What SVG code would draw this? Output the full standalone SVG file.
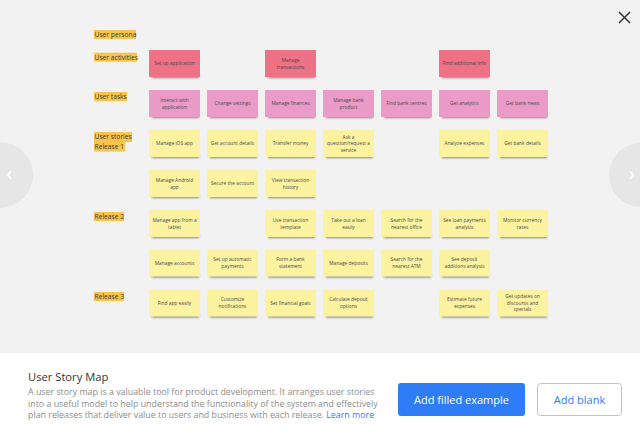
<svg xmlns="http://www.w3.org/2000/svg" xmlns:xlink="http://www.w3.org/1999/xlink" width="640" height="437" viewBox="0 0 640 437">
<defs>
<filter id="blur" x="-20%" y="-100%" width="140%" height="300%"><feGaussianBlur stdDeviation="1.3"/></filter>
<g id="note"><rect x="3" y="24" width="47" height="4" fill="#000" opacity="0.45" filter="url(#blur)"/><rect width="51" height="27"/></g>
<style>
.nt{font-family:"Open Sans","DejaVu Sans",sans-serif;font-size:4.85px;fill:#4a4a4a;text-anchor:middle}
.lb{font-family:"Open Sans","DejaVu Sans",sans-serif;font-size:6.7px;fill:#3a3a3a}
.hl{fill:#f9c44c}
.act{fill:#ef7186}
.task{fill:#ea9bc7}
.st{fill:#fcf3a1}
.title{font-family:"Open Sans","DejaVu Sans",sans-serif;font-size:11.2px;fill:#333}
.desc{font-family:"Open Sans","DejaVu Sans",sans-serif;font-size:8.85px;fill:#8c8c8c}
.btn{font-family:"Open Sans","DejaVu Sans",sans-serif;font-size:11px;text-anchor:middle}
</style>
</defs>
<rect width="640" height="437" fill="#f2f2f2"/>
<g id="nav">
<circle cx="0" cy="175" r="33" fill="#e6e6e6"/>
<path d="M11,171 L8,175 L11,179" fill="none" stroke="#fff" stroke-width="1.5"/>
<circle cx="641" cy="175" r="32" fill="#e6e6e6"/>
<path d="M630,171 L633,175 L630,179" fill="none" stroke="#fff" stroke-width="1.5"/>
<path d="M619,12 L630,23 M630,12 L619,23" stroke="#333" stroke-width="1.5"/>
</g>
<g id="lane-labels">
<g id="lbl-persona"><rect class="hl" x="94" y="30" width="42" height="9"/><text class="lb" x="94.5" y="37">User persona</text></g>
<g id="lbl-activities"><rect class="hl" x="94" y="52.7" width="43" height="9"/><text class="lb" x="94.5" y="59.7">User activities</text></g>
<g id="lbl-tasks"><rect class="hl" x="94" y="92" width="33" height="9"/><text class="lb" x="94.5" y="99">User tasks</text></g>
<g id="lbl-r1"><rect class="hl" x="94" y="132" width="38" height="10"/><rect class="hl" x="94" y="142" width="31" height="9.5"/><text class="lb" x="94.5" y="139.3">User stories</text><text class="lb" x="94.5" y="149.3">Release 1</text></g>
<g id="lbl-r2"><rect class="hl" x="94" y="212" width="30" height="9"/><text class="lb" x="94.5" y="219">Release 2</text></g>
<g id="lbl-r3"><rect class="hl" x="94" y="292" width="30" height="9"/><text class="lb" x="94.5" y="299">Release 3</text></g>
</g>
<g id="connectors"/>
<g id="activities">
<g id="a1" transform="translate(149,50)"><use xlink:href="#note" class="act"/><text class="nt" x="25.5" y="15.3">Set up application</text></g>
<g id="a2" transform="translate(265,50)"><use xlink:href="#note" class="act"/><text class="nt" x="25.5" y="11.8">Manage</text><text class="nt" x="25.5" y="18.5">transactions</text></g>
<g id="a3" transform="translate(439,50)"><use xlink:href="#note" class="act"/><text class="nt" x="25.5" y="15.3">Find additional info</text></g>
</g>
<g id="tasks">
<g id="t1" transform="translate(149,90)"><use xlink:href="#note" class="task"/><text class="nt" x="25.5" y="11.8">Interact with</text><text class="nt" x="25.5" y="18.5">application</text></g>
<g id="t2" transform="translate(207,90)"><use xlink:href="#note" class="task"/><text class="nt" x="25.5" y="15.3">Change settings</text></g>
<g id="t3" transform="translate(265,90)"><use xlink:href="#note" class="task"/><text class="nt" x="25.5" y="15.3">Manage finances</text></g>
<g id="t4" transform="translate(323,90)"><use xlink:href="#note" class="task"/><text class="nt" x="25.5" y="11.8">Manage bank</text><text class="nt" x="25.5" y="18.5">product</text></g>
<g id="t5" transform="translate(381,90)"><use xlink:href="#note" class="task"/><text class="nt" x="25.5" y="15.3">Find bank centres</text></g>
<g id="t6" transform="translate(439,90)"><use xlink:href="#note" class="task"/><text class="nt" x="25.5" y="15.3">Get analytics</text></g>
<g id="t7" transform="translate(497,90)"><use xlink:href="#note" class="task"/><text class="nt" x="25.5" y="15.3">Get bank news</text></g>
</g>
<g id="release1">
<g id="s1" transform="translate(149,130)"><use xlink:href="#note" class="st"/><text class="nt" x="25.5" y="15.3">Manage iOS app</text></g>
<g id="s2" transform="translate(207,130)"><use xlink:href="#note" class="st"/><text class="nt" x="25.5" y="15.3">Get account details</text></g>
<g id="s3" transform="translate(265,130)"><use xlink:href="#note" class="st"/><text class="nt" x="25.5" y="15.3">Transfer money</text></g>
<g id="s4" transform="translate(323,130)"><use xlink:href="#note" class="st"/><text class="nt" x="25.5" y="8.5">Ask a</text><text class="nt" x="25.5" y="15.1">question/request a</text><text class="nt" x="25.5" y="21.6">service</text></g>
<g id="s5" transform="translate(439,130)"><use xlink:href="#note" class="st"/><text class="nt" x="25.5" y="15.3">Analyze expenses</text></g>
<g id="s6" transform="translate(497,130)"><use xlink:href="#note" class="st"/><text class="nt" x="25.5" y="15.3">Get bank details</text></g>
<g id="s7" transform="translate(149,170)"><use xlink:href="#note" class="st"/><text class="nt" x="25.5" y="11.8">Manage Android</text><text class="nt" x="25.5" y="18.5">app</text></g>
<g id="s8" transform="translate(207,170)"><use xlink:href="#note" class="st"/><text class="nt" x="25.5" y="15.3">Secure the account</text></g>
<g id="s9" transform="translate(265,170)"><use xlink:href="#note" class="st"/><text class="nt" x="25.5" y="11.8">View transaction</text><text class="nt" x="25.5" y="18.5">history</text></g>
</g>
<g id="release2">
<g id="r1" transform="translate(149,210)"><use xlink:href="#note" class="st"/><text class="nt" x="25.5" y="11.8">Manage app from a</text><text class="nt" x="25.5" y="18.5">tablet</text></g>
<g id="r2" transform="translate(265,210)"><use xlink:href="#note" class="st"/><text class="nt" x="25.5" y="11.8">Use transaction</text><text class="nt" x="25.5" y="18.5">template</text></g>
<g id="r3" transform="translate(323,210)"><use xlink:href="#note" class="st"/><text class="nt" x="25.5" y="11.8">Take out a loan</text><text class="nt" x="25.5" y="18.5">easily</text></g>
<g id="r4" transform="translate(381,210)"><use xlink:href="#note" class="st"/><text class="nt" x="25.5" y="11.8">Search for the</text><text class="nt" x="25.5" y="18.5">nearest office</text></g>
<g id="r5" transform="translate(439,210)"><use xlink:href="#note" class="st"/><text class="nt" x="25.5" y="11.8">See loan payments</text><text class="nt" x="25.5" y="18.5">analysis</text></g>
<g id="r6" transform="translate(497,210)"><use xlink:href="#note" class="st"/><text class="nt" x="25.5" y="11.8">Monitor currency</text><text class="nt" x="25.5" y="18.5">rates</text></g>
<g id="r7" transform="translate(149,249.5)"><use xlink:href="#note" class="st"/><text class="nt" x="25.5" y="15.3">Manage accounts</text></g>
<g id="r8" transform="translate(207,249.5)"><use xlink:href="#note" class="st"/><text class="nt" x="25.5" y="11.8">Set up automatic</text><text class="nt" x="25.5" y="18.5">payments</text></g>
<g id="r9" transform="translate(265,249.5)"><use xlink:href="#note" class="st"/><text class="nt" x="25.5" y="11.8">Form a bank</text><text class="nt" x="25.5" y="18.5">statement</text></g>
<g id="r10" transform="translate(323,249.5)"><use xlink:href="#note" class="st"/><text class="nt" x="25.5" y="15.3">Manage deposits</text></g>
<g id="r11" transform="translate(381,249.5)"><use xlink:href="#note" class="st"/><text class="nt" x="25.5" y="11.8">Search for the</text><text class="nt" x="25.5" y="18.5">nearest ATM</text></g>
<g id="r12" transform="translate(439,249.5)"><use xlink:href="#note" class="st"/><text class="nt" x="25.5" y="11.8">See deposit</text><text class="nt" x="25.5" y="18.5">additions analysis</text></g>
</g>
<g id="release3">
<g id="q1" transform="translate(149,289.5)"><use xlink:href="#note" class="st"/><text class="nt" x="25.5" y="15.3">Find app easily</text></g>
<g id="q2" transform="translate(207,289.5)"><use xlink:href="#note" class="st"/><text class="nt" x="25.5" y="11.8">Customize</text><text class="nt" x="25.5" y="18.5">notifications</text></g>
<g id="q3" transform="translate(265,289.5)"><use xlink:href="#note" class="st"/><text class="nt" x="25.5" y="15.3">Set financial goals</text></g>
<g id="q4" transform="translate(323,289.5)"><use xlink:href="#note" class="st"/><text class="nt" x="25.5" y="11.8">Calculate deposit</text><text class="nt" x="25.5" y="18.5">options</text></g>
<g id="q5" transform="translate(439,289.5)"><use xlink:href="#note" class="st"/><text class="nt" x="25.5" y="11.8">Estimate future</text><text class="nt" x="25.5" y="18.5">expenses</text></g>
<g id="q6" transform="translate(497,289.5)"><use xlink:href="#note" class="st"/><text class="nt" x="25.5" y="8.5">Get updates on</text><text class="nt" x="25.5" y="15.1">discounts and</text><text class="nt" x="25.5" y="21.6">specials</text></g>
</g>
<g id="panel">
<rect x="0" y="353" width="640" height="84" fill="#fff"/>
<text class="title" x="28" y="380.5">User Story Map</text>
<text class="desc" x="28" y="395.3">A user story map is a valuable tool for product development. It arranges user stories</text>
<text class="desc" x="28" y="406.6">into a useful model to help understand the functionality of the system and effectively</text>
<text class="desc" x="28" y="417.9">plan releases that deliver value to users and business with each release. <tspan fill="#2d7cf6">Learn more</tspan></text>
<g id="btn-filled"><rect x="398" y="383" width="127" height="33" rx="3" fill="#2e7df6"/><text class="btn" x="461.5" y="403.7" fill="#fff">Add filled example</text></g>
<g id="btn-blank"><rect x="537.5" y="383.5" width="84" height="32" rx="3" fill="#fff" stroke="#a9c6f4"/><text class="btn" x="579.5" y="403.7" fill="#2e7df6">Add blank</text></g>
</g>
</svg>
